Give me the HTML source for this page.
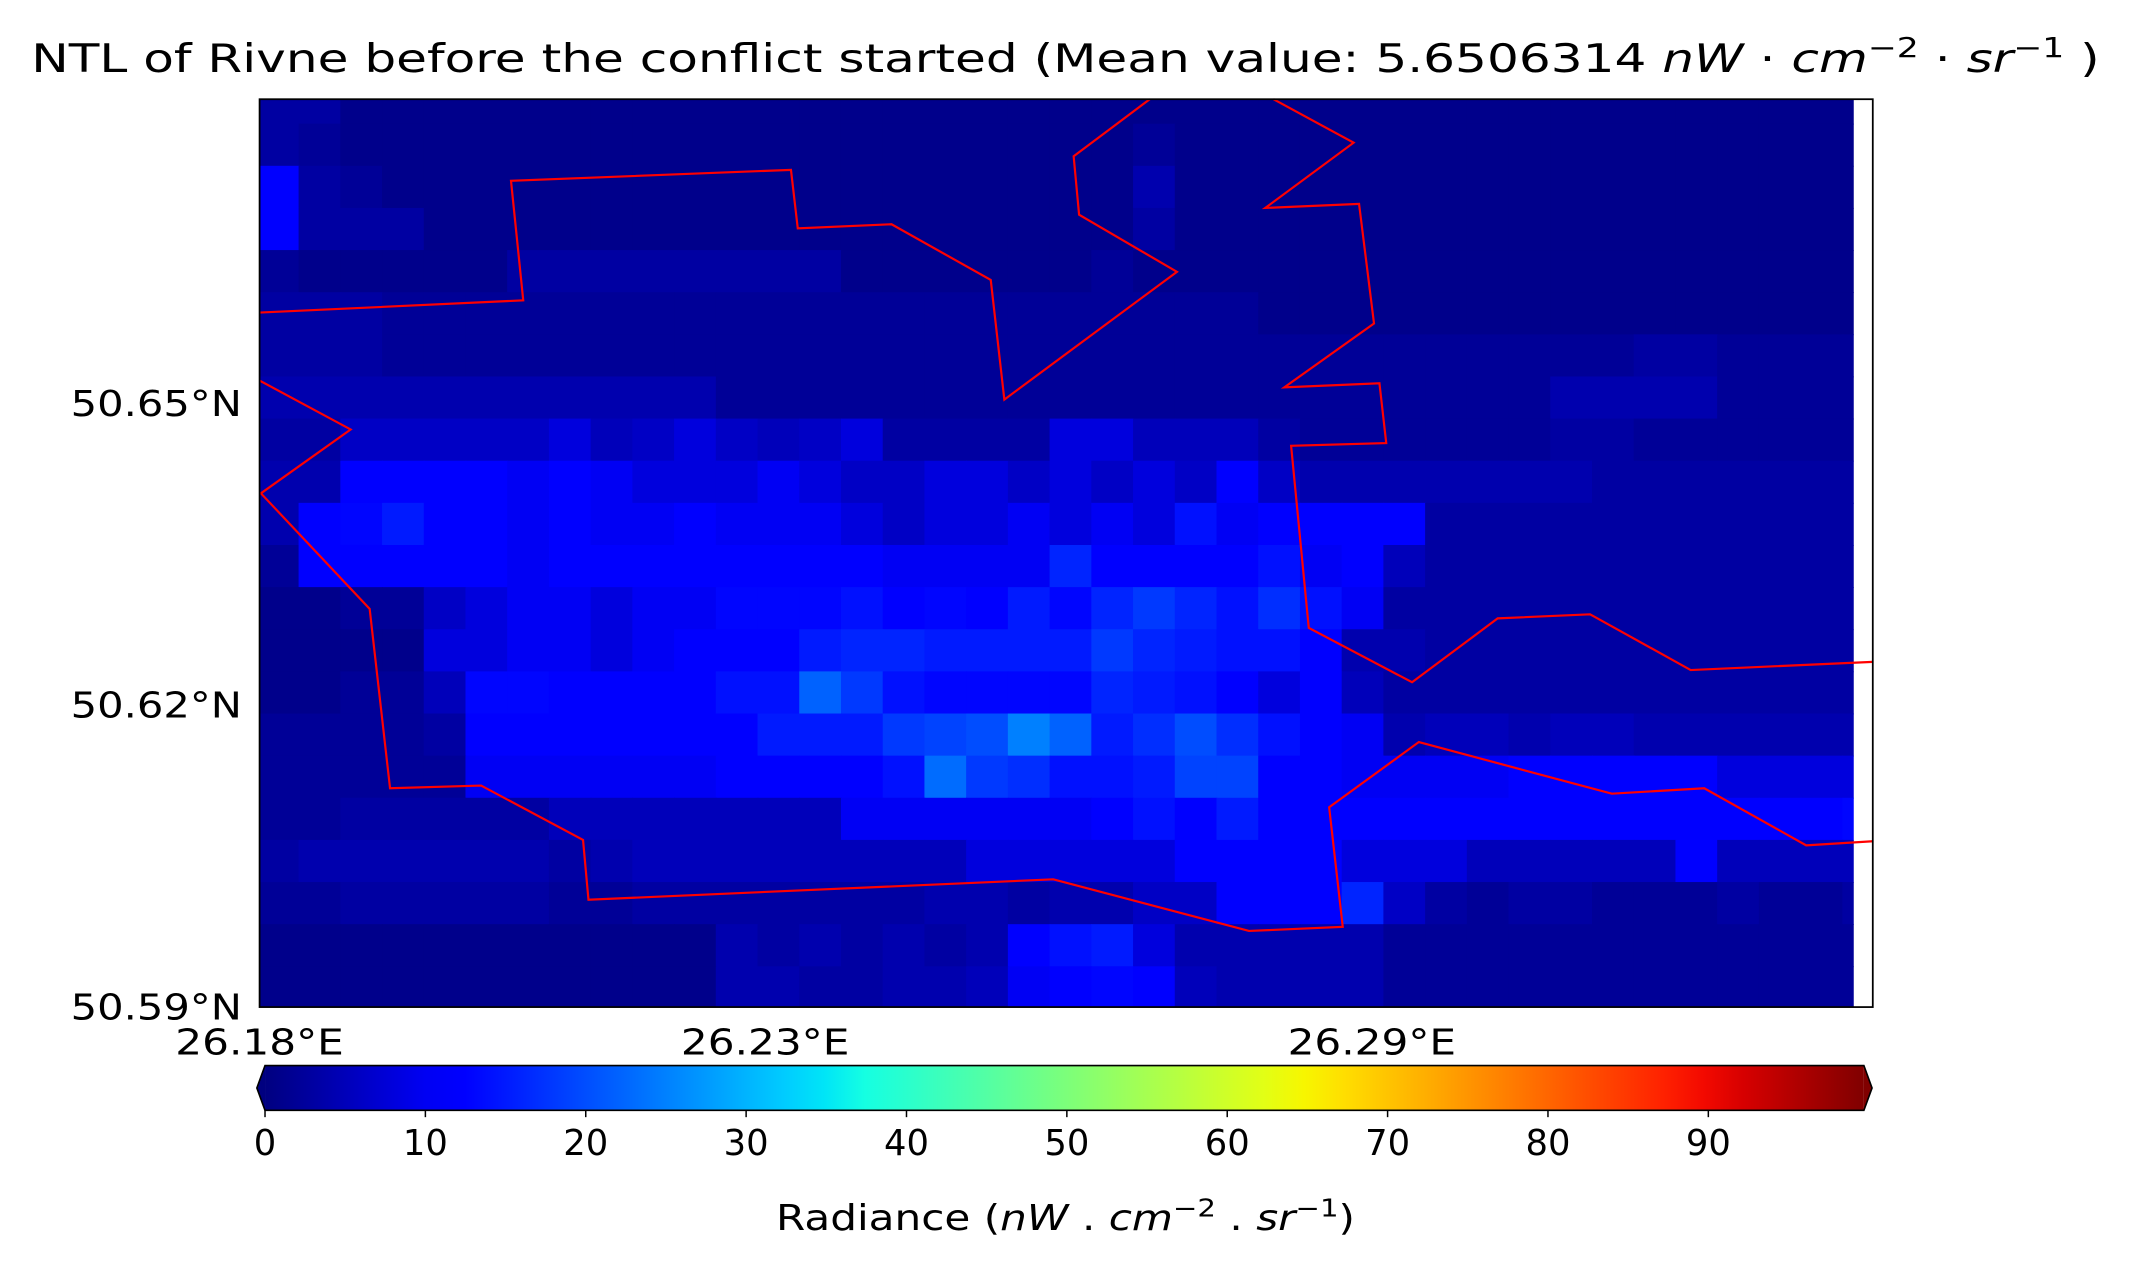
<!DOCTYPE html>
<html><head><meta charset="utf-8"><title>NTL of Rivne</title>
<style>
html,body{margin:0;padding:0;background:#fff;}
svg{display:block;font-family:"DejaVu Sans","Liberation Sans",sans-serif;}
</style></head>
<body>
<svg id="chart" width="2131" height="1274" viewBox="0 0 1568 937.4" preserveAspectRatio="none" xmlns="http://www.w3.org/2000/svg">
<text x="784" y="53" font-size="29" text-anchor="middle" fill="#000" textLength="1522" lengthAdjust="spacingAndGlyphs">NTL of Rivne before the conflict started (Mean value: 5.6506314 <tspan font-style="italic">nW</tspan> · <tspan font-style="italic">cm</tspan><tspan font-size="20" dy="-11">−2</tspan><tspan dy="11"> · </tspan><tspan font-style="italic">sr</tspan><tspan font-size="20" dy="-11">−1</tspan><tspan dy="11"> )</tspan></text>
<g id="heat"></g>
<g id="borders"></g>
<rect x="191" y="73" width="1187" height="668" fill="none" stroke="#000" stroke-width="1.3"/>
<g id="ylabels"></g>
<g id="xlabels"></g>
<g id="cbar"></g>
<text x="784" y="905" font-size="26" text-anchor="middle" textLength="426" lengthAdjust="spacingAndGlyphs">Radiance (<tspan font-style="italic">nW</tspan> . <tspan font-style="italic">cm</tspan><tspan font-size="18" dy="-10">−2</tspan><tspan dy="10"> . </tspan><tspan font-style="italic">sr</tspan><tspan font-size="18" dy="-10">−1</tspan><tspan dy="10">)</tspan></text>
</svg>
<script>
const rows = [
[3,3,1,1,1,1,1,1,1,1,1,1,1,1,1,1,1,1,1,1,1,1,1,1,1,1,1,1,1,1,1,1,1,1,1,1,1,1,1],
[3,2,1,1,1,1,1,1,1,1,1,1,1,1,1,1,1,1,1,1,1,2,1,1,1,1,1,1,1,1,1,1,1,1,1,1,1,1,1],
[12,3,2,1,1,1,1,1,1,1,1,1,1,1,1,1,1,1,1,1,1,4,1,1,1,1,1,1,1,1,1,1,1,1,1,1,1,1,1],
[11,3,3,3,1,1,1,1,1,1,1,1,1,1,1,1,1,1,1,1,1,3,1,1,1,1,1,1,1,1,1,1,1,1,1,1,1,1,1],
[2,1,1,1,1,1,3,3,3,3,3,3,3,3,1,1,1,1,1,1,2,1,1,1,1,1,1,1,1,1,1,1,1,1,1,1,1,1,1],
[3,3,3,2,2,2,2,2,2,2,2,2,2,2,2,2,2,2,2,2,2,2,2,2,1,1,1,1,1,1,1,1,1,1,1,1,1,1,1],
[3,3,3,2,2,2,2,2,2,2,2,2,2,2,2,2,2,2,2,2,2,2,2,2,2,2,2,2,2,2,2,2,2,3,3,2,2,2,2],
[4,4,4,4,4,4,4,4,4,4,4,2,2,2,2,2,2,2,2,2,2,2,2,2,2,2,2,2,2,2,2,4,4,4,4,2,2,2,2],
[3,3,6,6,6,6,6,8,5,6,8,6,5,6,8,3,3,3,3,8,8,5,5,5,3,2,2,2,2,2,2,3,3,2,2,2,2,2,2],
[4,4,11,11,12,11,10,12,10,8,8,8,10,8,6,6,8,8,6,8,6,8,6,11,6,4,4,4,4,4,4,4,3,3,3,3,3,3,3],
[4,11,13,15,12,11,10,11,10,10,11,10,10,10,8,6,8,8,10,8,10,8,14,10,12,11,12,11,3,3,3,3,3,3,3,3,3,3,3],
[2,11,12,12,11,11,10,12,12,12,11,12,12,12,12,10,10,10,10,16,11,11,11,11,14,10,11,5,3,3,3,3,3,3,3,3,3,3,3],
[1,1,2,2,6,8,10,10,8,10,10,13,13,13,14,12,13,11,15,13,16,18,16,14,17,14,10,3,3,3,3,3,3,3,3,3,3,3,3],
[1,1,1,1,8,8,10,10,8,10,12,12,11,15,16,16,15,15,15,15,18,16,15,14,14,12,4,4,3,3,3,3,3,3,3,3,3,3,3],
[1,1,2,2,5,13,13,11,11,11,11,14,14,22,18,14,13,13,13,13,16,15,14,12,8,12,5,3,3,3,3,3,3,3,3,3,3,3,3],
[2,2,2,2,3,11,11,11,11,11,11,12,15,15,15,18,19,20,25,22,15,17,20,17,14,12,10,4,5,5,4,5,5,4,4,4,4,4,4],
[2,2,2,2,2,10,10,10,10,10,10,12,12,12,12,14,23,18,17,14,14,15,19,19,12,11,10,10,10,10,12,11,11,11,11,8,8,8,8],
[2,2,3,3,3,3,3,5,5,5,5,5,5,5,10,10,10,10,10,10,12,14,11,15,12,11,11,11,11,11,12,12,12,12,12,12,12,12,13],
[3,4,4,4,4,4,4,3,4,5,5,5,5,5,5,5,5,8,8,8,8,8,12,12,12,11,8,8,8,5,5,5,5,5,11,5,5,5,5],
[2,2,3,3,3,3,3,2,2,3,3,3,3,3,3,3,4,4,3,4,4,6,6,12,12,12,16,6,3,2,3,3,2,2,2,3,2,2,3],
[1,1,1,1,1,1,1,1,1,1,1,4,3,4,3,4,3,4,12,14,15,8,4,4,4,4,4,2,2,2,2,2,2,2,2,2,2,2,2],
[1,1,1,1,1,1,1,1,1,1,1,4,4,3,3,4,4,5,10,12,13,11,5,4,4,4,4,2,2,2,2,2,2,2,2,2,2,2,2]
];
const cbarTicks = [0,10,20,30,40,50,60,70,80,90];
const cbarMax = 99.7;
const latLabels = ["50.65°N","50.62°N","50.59°N"];
const latVals = [50.65,50.62,50.59];
const lonLabels = ["26.18°E","26.23°E","26.29°E"];
const lonVals = [26.18,26.23,26.29];
const borderA = [[191,230],[385,221],[376,133],[582,125],[587,168],[656,165],[729,206],[739,294],[866,200],[794,158],[790,115],[846,73]];
const borderB = [[937,73],[996,105],[931,153],[1000,150],[1011,238],[945,285],[1015,282],[1020,326],[950,328],[963,462],[1039,502],[1102,455],[1170,452],[1244,493],[1378,487]];
const borderC = [[191,280],[258,316],[192,363],[272,448],[287,580],[354,578],[429,618],[433,662],[775,647],[919,685],[988,682],[978,594],[1044,546],[1186,584],[1254,580],[1329,622],[1378,619]];

const NS="http://www.w3.org/2000/svg";
function jet(t){
  t=Math.max(0,Math.min(1,t));
  function seg(x,pts){for(let i=0;i<pts.length-1;i++){const a=pts[i],b=pts[i+1];if(x>=a[0]&&x<=b[0]){return a[1]+(b[1]-a[1])*(x-a[0])/(b[0]-a[0]);}}return pts[pts.length-1][1];}
  const r=seg(t,[[0,0],[0.35,0],[0.66,1],[0.89,1],[1,0.5]]);
  const g=seg(t,[[0,0],[0.125,0],[0.375,1],[0.64,1],[0.91,0],[1,0]]);
  const b=seg(t,[[0,0.5],[0.11,1],[0.34,1],[0.65,0],[1,0]]);
  return `rgb(${Math.round(r*255)},${Math.round(g*255)},${Math.round(b*255)})`;
}
function el(tag,attrs,parent){const e=document.createElementNS(NS,tag);for(const k in attrs)e.setAttribute(k,attrs[k]);parent.appendChild(e);return e;}
const x0=189, cw=30.7, y0=60, ch=31;
const colX=c=>x0+c*cw, rowY=r=>y0+r*ch;
const latY=v=>741-(v-50.59)/0.03*222;
const lonX=v=>191+(v-26.18)*7440;
const cbX=v=>195+v*11.8;

const heat=document.getElementById('heat');
const clip=el('clipPath',{id:'pc'},heat);
el('rect',{x:191,y:73,width:1173,height:668},clip);
const hg=el('g',{'clip-path':'url(#pc)'},heat);
rows.forEach((row,r)=>row.forEach((v,c)=>{
  const rc=el('rect',{x:colX(c),y:rowY(r),width:cw+0.6,height:ch+0.6,fill:jet(v/cbarMax)},hg);
  
  
}));

const borders=document.getElementById('borders');
[borderA,borderB,borderC].forEach(pts=>{
  const p=el('polyline',{points:pts.map(p=>p.join(',')).join(' '),fill:'none',stroke:'#ff0000','stroke-width':1.6},borders);
  
  
});

const yl=document.getElementById('ylabels');
latLabels.forEach((s,i)=>{
  const t=el('text',{x:178,y:latY(latVals[i])+9,'font-size':26,'text-anchor':'end',textLength:126,lengthAdjust:'spacingAndGlyphs'},yl);
  t.textContent=s;
  
  
});
const xl=document.getElementById('xlabels');
lonLabels.forEach((s,i)=>{
  const t=el('text',{x:lonX(lonVals[i]),y:776,'font-size':26,'text-anchor':'middle',textLength:124,lengthAdjust:'spacingAndGlyphs'},xl);
  t.textContent=s;
  
  
});

const cb=document.getElementById('cbar');
const defs=el('defs',{},cb);
const grad=el('linearGradient',{id:'jetg',x1:0,x2:1,y1:0,y2:0},defs);
for(let i=0;i<=40;i++){el('stop',{offset:(i/40),'stop-color':jet(i/40)},grad);}
const cy1=784, cy2=817, cxe=cbX(cbarMax);
el('polygon',{points:`195,${cy1} 189,${(cy1+cy2)/2} 195,${cy2}`,fill:jet(0)},cb);
el('polygon',{points:`${cxe},${cy1} ${cxe+6},${(cy1+cy2)/2} ${cxe},${cy2}`,fill:jet(1)},cb);
el('rect',{x:195,y:cy1,width:cxe-195,height:cy2-cy1,fill:'url(#jetg)'},cb);
el('polygon',{points:`195,${cy1} ${cxe},${cy1} ${cxe+6},${(cy1+cy2)/2} ${cxe},${cy2} 195,${cy2} 189,${(cy1+cy2)/2}`,fill:'none',stroke:'#000','stroke-width':1.2},cb);
cbarTicks.forEach(v=>{
  const tk=el('line',{x1:cbX(v),x2:cbX(v),y1:cy2,y2:cy2+5,stroke:'#000','stroke-width':1.1},cb);
  
  
  const t=el('text',{x:cbX(v),y:850,'font-size':26,'text-anchor':'middle'},cb);
  t.textContent=v;
  
  
});
</script>
</body></html>
